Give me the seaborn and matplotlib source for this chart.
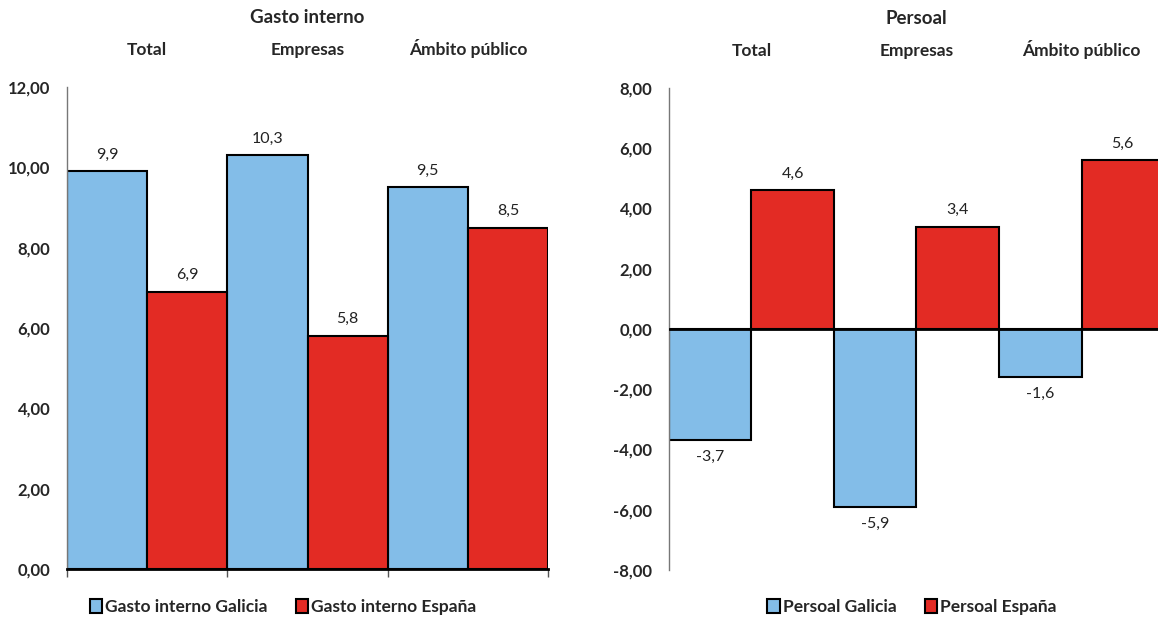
import numpy as np
import pandas as pd
import matplotlib
matplotlib.use('Agg')
import matplotlib.pyplot as plt
import seaborn as sns
from matplotlib.ticker import FuncFormatter, FixedLocator

# Datos (taxas de variación)
categorias = ['Total', 'Empresas', 'Ámbito público']
gasto_galicia = [9.9, 10.3, 9.5]
gasto_espana = [6.9, 5.8, 8.5]
persoal_galicia = [-3.7, -5.9, -1.6]
persoal_espana = [4.6, 3.4, 5.6]

azul = '#83BDE8'
vermello = '#E32B24'

sns.set_style('white')
plt.rcParams['font.family'] = ['Lato', 'DejaVu Sans']


def coma(v, pos=None):
    return f'{v:.2f}'.replace('.', ',')


def panel(ax, galicia, espana, serie_g, serie_e, ylim, titulo):
    df = pd.DataFrame({
        'categoria': categorias * 2,
        'valor': galicia + espana,
        'serie': [serie_g] * 3 + [serie_e] * 3,
    })
    sns.barplot(data=df, x='categoria', y='valor', hue='serie', ax=ax,
                palette=[azul, vermello], saturation=1, width=1.0,
                edgecolor='black', linewidth=1.5, legend=False)
    for cont in ax.containers:
        labs = [f'{b.get_height():.1f}'.replace('.', ',') for b in cont]
        ax.bar_label(cont, labels=labs, padding=7, fontsize=11.5, color='#222222')
    ax.set_xlim(-0.5, 2.5)
    ax.set_ylim(*ylim)
    ax.yaxis.set_major_locator(FixedLocator(np.arange(ylim[0], ylim[1] + 0.1, 2)))
    ax.yaxis.set_major_formatter(FuncFormatter(coma))
    ax.set_xlabel('')
    ax.set_ylabel('')
    ax.tick_params(axis='x', which='major', length=0, labelbottom=False)
    # nomes das categorías enriba
    for i, cat in enumerate(categorias):
        ax.text(i, 1 + 32 / 482, cat, transform=ax.get_xaxis_transform(),
                ha='center', va='baseline', fontsize=12.5, fontweight='bold')
    ax.tick_params(axis='y', labelsize=12, length=5, width=1, color='#555555', pad=7)
    for t in ax.get_yticklabels():
        t.set_fontweight('bold')
    ax.spines['top'].set_visible(False)
    ax.spines['right'].set_visible(False)
    ax.spines['left'].set_color('#777777')
    ax.spines['left'].set_linewidth(1.0)
    ax.text(0.5, 1 + 69 / 482, titulo, transform=ax.transAxes, ha='center',
            va='center', fontsize=13.5, fontweight='bold')
    ax.patch.set_alpha(0)
    return [serie_g, serie_e]


fig = plt.figure(figsize=(11.58, 6.21), dpi=100)
ax1 = fig.add_axes([0.0579, 0.0837, 0.4153, 0.7762])
ax2 = fig.add_axes([0.5777, 0.0821, 0.4275, 0.7762])

nomes1 = panel(ax1, gasto_galicia, gasto_espana, 'Gasto interno Galicia',
               'Gasto interno España', (0, 12), 'Gasto interno')
nomes2 = panel(ax2, persoal_galicia, persoal_espana, 'Persoal Galicia',
               'Persoal España', (-8, 8), 'Persoal')

# panel esquerdo: eixo inferior con marcas entre categorías
ax1.spines['bottom'].set_color('black')
ax1.spines['bottom'].set_linewidth(2)
ax1.xaxis.set_minor_locator(FixedLocator([-0.5, 0.5, 1.5, 2.5]))
ax1.tick_params(axis='x', which='minor', bottom=True, top=False, length=6,
                width=1, color='#555555', direction='out')
ax1.tick_params(axis='y', direction='inout', length=10)

# panel dereito: liña do cero
ax2.spines['bottom'].set_visible(False)
ax2.axhline(0, color='black', linewidth=2, zorder=5)

for ax, nomes, cx in [(ax1, nomes1, 0.2444), (ax2, nomes2, 0.7876)]:
    handles = [plt.Rectangle((0, 0), 1, 1, facecolor=c.patches[0].get_facecolor(),
                             edgecolor='black', linewidth=1.5) for c in ax.containers]
    fig.legend(handles, nomes, loc='center', bbox_to_anchor=(cx, 0.0225),
               ncol=2, frameon=False, handlelength=0.7, handleheight=0.9,
               handletextpad=0.2, columnspacing=1.6,
               prop={'weight': 'bold', 'size': 12.5})

fig.savefig('out.png', dpi=100)
